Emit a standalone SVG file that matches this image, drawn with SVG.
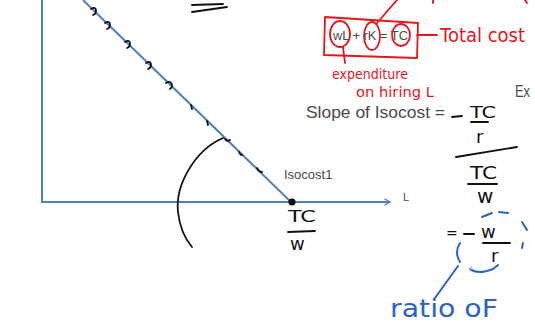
<svg xmlns="http://www.w3.org/2000/svg" width="535" height="328" viewBox="0 0 535 328">
<defs>
<style>
.ax{stroke:#4f81bd;stroke-width:2;fill:none}
.ink{stroke:#111;stroke-width:1.8;fill:none;stroke-linecap:round;stroke-linejoin:round}
.red{stroke:#e3161e;stroke-width:1.8;fill:none;stroke-linecap:round;stroke-linejoin:round}
.blue{stroke:#2b63c4;stroke-width:2;fill:none;stroke-linecap:round;stroke-linejoin:round}
.slide{font-family:"Liberation Sans",Arial,sans-serif;fill:#4a4a4a}
.hand{font-family:"DejaVu Sans","Noto Sans",sans-serif}
.hk{fill:#111}
.hr{fill:#e3161e}
.hb{fill:#2b63c4}
</style>
<marker id="arr" viewBox="0 0 10 10" refX="8" refY="5" markerWidth="8" markerHeight="8" markerUnits="userSpaceOnUse" orient="auto">
<path d="M1,1 L8,5 L1,9" fill="none" stroke="#4f81bd" stroke-width="1.6"/>
</marker>
</defs>
<rect width="535" height="328" fill="#fff"/>

<g id="connectors">
<line class="ax" x1="42" y1="0" x2="42" y2="202"/>
<line class="ax" x1="41" y1="202" x2="390" y2="202" marker-end="url(#arr)"/>
<line class="ax" x1="83" y1="0" x2="291" y2="202"/>
<path class="ink" d="M223,138 C195,150 175,185 178,212 C180,230 186,240 192,247"/>
<line class="red" x1="377" y1="23" x2="397" y2="0"/>
<line class="red" x1="343" y1="47" x2="345" y2="63"/>
<line class="red" x1="417" y1="35" x2="437" y2="35"/>
<line class="blue" x1="458" y1="266" x2="435" y2="298"/>
</g>

<g id="isocost">
<circle cx="292" cy="202" r="3.6" fill="#111"/>
<text class="slide" x="284" y="179" font-size="13" fill="#595959">Isocost1</text>
<text class="slide" x="403" y="201" font-size="11" fill="#595959">L</text>
<g class="ink">
<path d="M91,9 q5,-3 5,2 q0,3 -3,4"/>
<path d="M105,23 q5,-3 5,2 q0,3 -3,4"/>
<path d="M125,42 q5,-3 5,2 q0,3 -3,4"/>
<path d="M146,63 q5,-3 5,2 q0,3 -3,4"/>
<path d="M166,83 q5,-3 6,2 q0,3 -2,4"/>
<path d="M191,105 l1,4"/>
<path d="M207,121 l1,4"/>
<path d="M225,139 q2,3 5,1"/>
<path d="M239,152 q1,3 3,3"/>
<path d="M257,168 q2,4 5,4"/>
</g>
<line class="ink" x1="192" y1="5" x2="223" y2="4"/>
<line class="ink" x1="192" y1="12" x2="227" y2="7"/>
</g>

<g id="cost-equation">
<path class="red" d="M325,17 L418,23 L417,58 L324,55 Z"/>
<text class="slide" x="333" y="40" font-size="13" textLength="75" lengthAdjust="spacingAndGlyphs" fill="#595959">wL + rK = TC</text>
<ellipse class="red" cx="340" cy="34" rx="10" ry="13"/>
<ellipse class="red" cx="372" cy="36" rx="8" ry="14"/>
<ellipse class="red" cx="401" cy="35" rx="9" ry="11"/>
<text class="hand hr" x="440" y="42" font-size="19" textLength="85" lengthAdjust="spacingAndGlyphs">Total cost</text>
<text class="hand hr" x="332" y="79" font-size="14" textLength="76" lengthAdjust="spacingAndGlyphs">expenditure</text>
<text class="hand hr" x="356" y="97" font-size="14" textLength="78" lengthAdjust="spacingAndGlyphs">on hiring L</text>
<line class="red" x1="433" y1="0" x2="433" y2="3"/>
<line class="red" x1="525" y1="0" x2="527" y2="3"/>
</g>

<g id="slope">
<text class="slide" x="306" y="118" font-size="17" textLength="139" lengthAdjust="spacingAndGlyphs" fill="#404040">Slope of Isocost =</text>
<text class="slide" x="515" y="97" font-size="16" textLength="15" lengthAdjust="spacingAndGlyphs" fill="#222">Ex</text>
<line class="ink" x1="452" y1="117" x2="462" y2="116"/>
<text class="hand hk" x="470" y="118" font-size="16" textLength="26" lengthAdjust="spacingAndGlyphs">TC</text>
<line class="ink" x1="471" y1="122" x2="488" y2="122"/>
<text class="hand hk" x="476" y="143" font-size="18">r</text>
<line class="ink" x1="456" y1="157" x2="517" y2="147"/>
<text class="hand hk" x="470" y="179" font-size="17" textLength="27" lengthAdjust="spacingAndGlyphs">TC</text>
<line class="ink" x1="468" y1="184" x2="497" y2="184"/>
<text class="hand hk" x="477" y="203" font-size="20">w</text>
</g>

<g id="intercept">
<text class="hand hk" x="288" y="222" font-size="16" textLength="28" lengthAdjust="spacingAndGlyphs">TC</text>
<line class="ink" x1="288" y1="232" x2="315" y2="231"/>
<text class="hand hk" x="290" y="250" font-size="18">w</text>
</g>

<g id="ratio">
<text class="hand hk" x="446" y="238" font-size="14">=</text>
<line class="ink" x1="464" y1="234" x2="474" y2="234"/>
<text class="hand hk" x="481" y="238" font-size="18">w</text>
<line class="ink" x1="483" y1="243" x2="510" y2="243"/>
<text class="hand hk" x="491" y="262" font-size="18">r</text>
<path class="blue" d="M460,243 Q454,252 460,262"/>
<path class="blue" d="M482,217 L492,213"/>
<path class="blue" d="M499,212 L508,213"/>
<path class="blue" d="M522,222 L527,230"/>
<path class="blue" d="M523,243 L522,248"/>
<path class="blue" d="M470,269 Q478,275 493,269 L498,265"/>
<circle cx="471" cy="268" r="1.5" fill="#bbb"/>
<text class="hand hb" x="390" y="317" font-size="24" textLength="108" lengthAdjust="spacingAndGlyphs">ratio oF</text>
</g>
</svg>
